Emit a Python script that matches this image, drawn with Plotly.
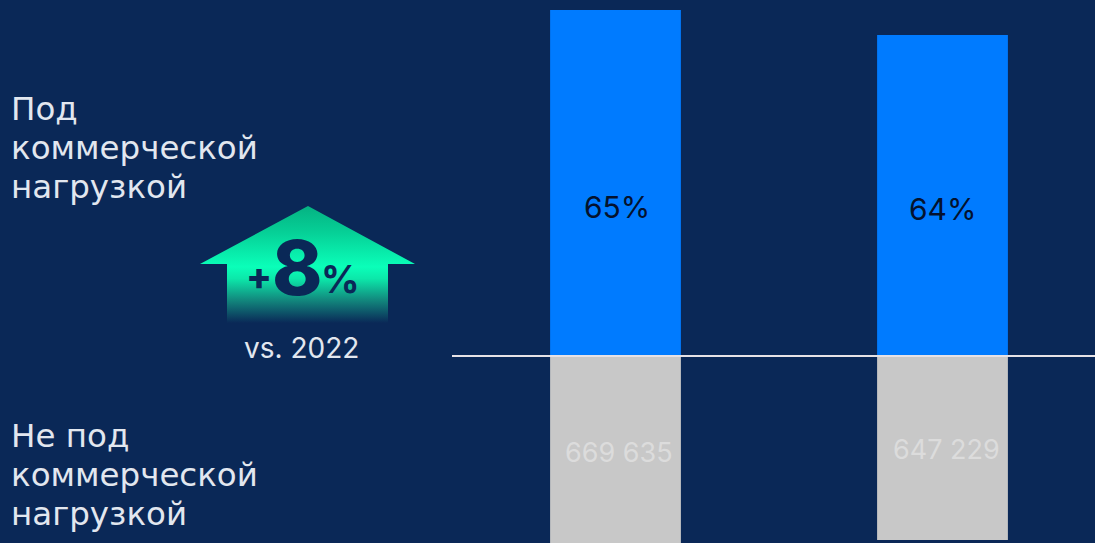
import plotly.graph_objects as go

W, H = 1095, 543
positions = [0, 1]
commercial = [1217000, 1129000]
non_commercial = [669635, 647229]
shares = ["65%", "64%"]
non_labels = ["669 635", "647 229"]
BG = "#0a2857"
FONT = "Inter"

PX = 0.0002843
fig = go.Figure()
fig.add_bar(x=positions, y=commercial, width=0.4, marker=dict(color="#007bff", line_width=0), hoverinfo="skip")
fig.add_bar(x=positions, y=[-v for v in non_commercial], width=0.4, marker=dict(color="#c8c8c8", line_width=0), hoverinfo="skip")

# decorative arrow, in a pixel-sized overlay axis
arrow_x = [308, 415, 388, 388, 227, 227, 200, 308]
arrow_y = [206, 264, 264, 323, 323, 264, 264, 206]
fig.add_scatter(
    x=arrow_x, y=arrow_y, xaxis="x2", yaxis="y2", mode="lines", line_width=0,
    fill="toself", hoverinfo="skip",
    fillgradient=dict(
        type="vertical", start=206, stop=323,
        colorscale=[[0, "#05b282"], [0.22, "#06cf96"], [0.52, "#0affb9"], [0.62, "#0ce8aa"],
                    [0.8, "#128a7e"], [1, BG]],
    ),
)

fig.update_layout(
    width=W, height=H, autosize=False, margin=dict(l=0, r=0, t=0, b=0),
    paper_bgcolor=BG, plot_bgcolor=BG, barmode="relative", showlegend=False,
    xaxis=dict(range=[-615.5 / 327, (W - 615.5) / 327], visible=False, fixedrange=True),
    yaxis=dict(range=[-187 / PX, 356 / PX], visible=False, fixedrange=True),
    xaxis2=dict(range=[0, W], visible=False, overlaying="x", anchor="y2", fixedrange=True),
    yaxis2=dict(range=[H, 0], visible=False, overlaying="y", anchor="x2", fixedrange=True),
)
fig.add_shape(type="line", xref="x", yref="y", x0=-0.5, x1=1.6, y0=0, y1=0,
              line=dict(color="#e6e2e6", width=2))


def text(x, y, s, size, color="#e2e7ef", anchor="left", weight=None, family=FONT):
    fig.add_annotation(
        xref="x2", yref="y2", x=x, y=y, text=s, showarrow=False, xanchor=anchor, yanchor="middle",
        align="left", font=dict(family=family, size=size, color=color, weight=weight),
        borderpad=0, borderwidth=0,
    )


for i, line in enumerate(["Под", "коммерческой", "нагрузкой"]):
    text(11, 109 + i * 39, line, 32.5, family="DejaVu Sans")
for i, line in enumerate(["Не под", "коммерческой", "нагрузкой"]):
    text(11, 436 + i * 39, line, 32.5, family="DejaVu Sans")

text(617, 207, shares[0], 30, "#04122e", "center")
text(942, 209, shares[1], 30, "#04122e", "center")
text(619, 452, non_labels[0], 27, "#dcdcdc", "center")
text(946, 449, non_labels[1], 27, "#dcdcdc", "center")
text(301, 348, "vs. 2022", 28, "#e2e7ef", "center")
text(259, 276, "+", 38, BG, "center", 800)
text(297, 267, "8", 76, BG, "center", 800)
text(340, 279, "%", 38, BG, "center", 700)

fig.write_html(
    "out.html",
    config={"displayModeBar": False},
    post_script="document.body.style.margin='0';document.documentElement.style.overflow='hidden';"
                "document.body.style.background='#0a2857';",
)
